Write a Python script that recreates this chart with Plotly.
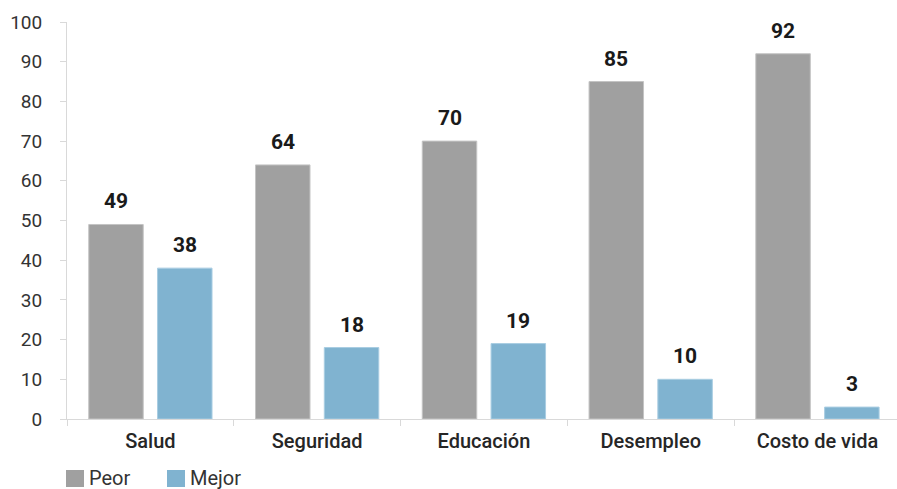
import plotly.graph_objects as go

categories = ["Salud", "Seguridad", "Educación", "Desempleo", "Costo de vida"]
peor = [49, 64, 70, 85, 92]
mejor = [38, 18, 19, 10, 3]
series_names = ["Peor", "Mejor"]
y_ticks = [0, 10, 20, 30, 40, 50, 60, 70, 80, 90, 100]

GRAY = "#a0a0a0"
BLUE = "#80b3d0"
AXIS = "#d9d9d9"
FONT = "Roboto, 'Noto Sans', sans-serif"

fig = go.Figure()
fig.add_trace(go.Bar(x=categories, y=peor, name=series_names[0],
                     marker=dict(color=GRAY, line=dict(color="#c4c4c4", width=1))))
fig.add_trace(go.Bar(x=categories, y=mejor, name=series_names[1],
                     marker=dict(color=BLUE, line=dict(color="#a9cde2", width=1))))

annotations = []
for vals, shift in ((peor, -34.4), (mejor, 34.4)):
    for c, v in zip(categories, vals):
        annotations.append(dict(x=c, y=v, xref="x", yref="y", text=str(v),
                                showarrow=False, xanchor="center", yanchor="bottom",
                                xshift=shift, yshift=9,
                                font=dict(family=FONT, size=21, color="#1a1a1a", weight="bold")))

# manual legend
legend_items = [(series_names[0], GRAY, -1, 20), (series_names[1], BLUE, 100, 121)]
shapes = []
for name, col, sx, tx in legend_items:
    shapes.append(dict(type="rect", xref="paper", yref="paper", xsizemode="pixel", ysizemode="pixel",
                       xanchor=0, yanchor=0, x0=sx, x1=sx + 18, y0=-51, y1=-68,
                       fillcolor=col, line=dict(width=0)))
    annotations.append(dict(x=0, y=0, xref="paper", yref="paper", xshift=tx, yshift=-59,
                            text=name, showarrow=False, xanchor="left", yanchor="middle",
                            font=dict(family=FONT, size=20, color="#333333")))

fig.update_layout(
    width=897, height=489,
    margin=dict(l=67, r=0, t=22, b=70),
    paper_bgcolor="white", plot_bgcolor="white",
    barmode="group", bargap=0.175, bargroupgap=0.208,
    showlegend=False,
    annotations=annotations, shapes=shapes,
    font=dict(family=FONT, color="#333333"),
)
fig.update_xaxes(range=[-0.5, 4.477], showline=True, linecolor=AXIS, linewidth=1,
                 ticks="outside", tickson="boundaries", ticklen=6, tickcolor=AXIS,
                 showgrid=False, ticklabelstandoff=4,
                 tickfont=dict(family=FONT, size=20, color="#262626", weight=500))
fig.update_yaxes(range=[0, 100], tickvals=y_ticks, showline=True, linecolor=AXIS, linewidth=1,
                 ticks="outside", ticklen=6, tickcolor=AXIS, showgrid=False, zeroline=False,
                 ticklabelstandoff=14,
                 tickfont=dict(family=FONT, size=19, color="#333333"))

fig.write_html("out.html", config={"displayModeBar": False},
               post_script="document.body.style.margin='0';document.body.style.overflow='hidden';")
